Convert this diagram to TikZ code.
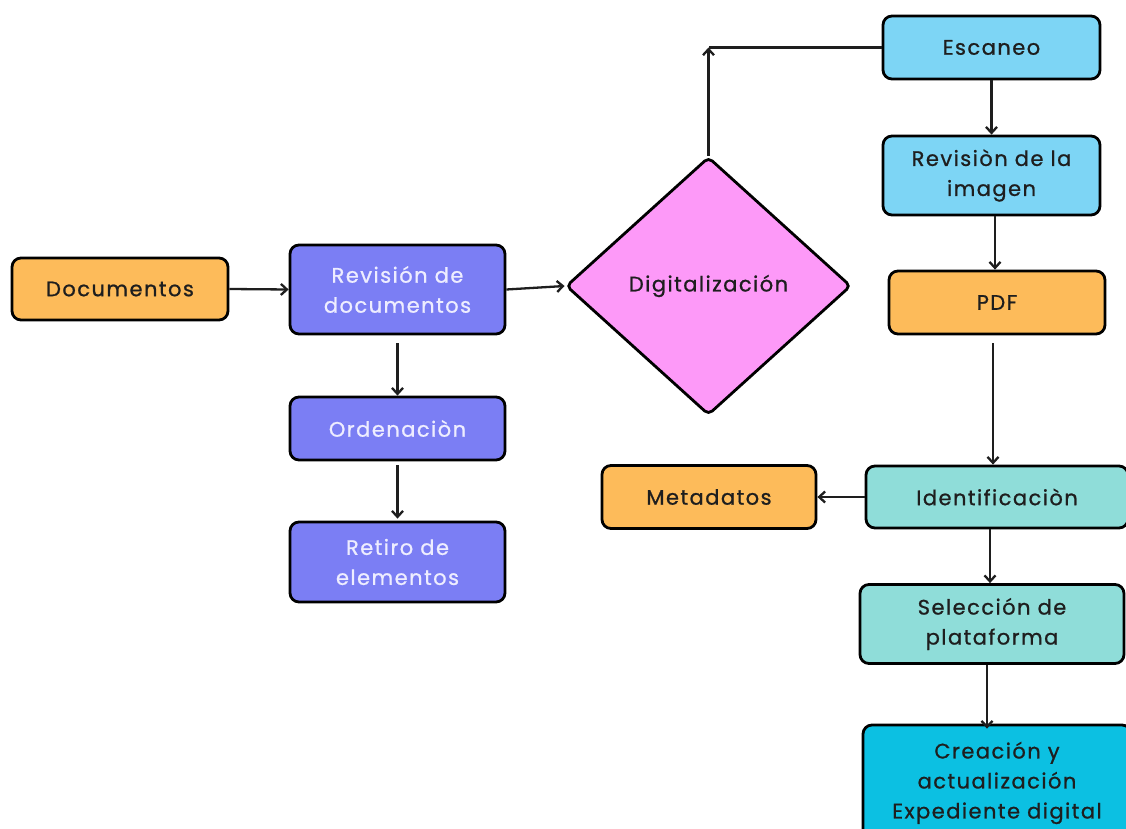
\documentclass[tikz,border=0pt]{standalone}
\usepackage{fontspec}
\setmainfont{Poppins}[LetterSpace=7, FakeBold=0.9]
\usetikzlibrary{shapes.geometric,arrows.meta}
\definecolor{corange}{HTML}{FDBB5A}
\definecolor{cpurple}{HTML}{7B7EF4}
\definecolor{cpink}{HTML}{FD99F8}
\definecolor{clblue}{HTML}{7DD5F5}
\definecolor{cteal}{HTML}{8FDDD9}
\definecolor{ccyan}{HTML}{0CC0E2}
\definecolor{ctextlight}{HTML}{EEEDFF}
\definecolor{ctextdark}{HTML}{1E1E1E}
\tikzset{
  box/.style={draw=black, line width=2.8pt, rounded corners=9pt, align=center,
    inner sep=0pt, font=\fontsize{21}{30}\selectfont, text=ctextdark},
  obox/.style={box, fill=corange},
  pbox/.style={box, fill=cpurple, text=ctextlight},
  bbox/.style={box, fill=clblue},
  tbox/.style={box, fill=cteal},
  cbox/.style={box, fill=ccyan},
  conn/.style={line width=2.3pt, draw=ctextdark},
  arr/.style={conn, -{Straight Barb[length=6pt,width=11pt,line width=2.3pt]}},
}
\begin{document}
\begin{tikzpicture}[x=1pt,y=-1pt]
\useasboundingbox[fill=white] (0,0) rectangle (1126,829);
% left column
\node[obox, minimum width=216, minimum height=62] (doc) at (120,289) {Documentos};
\node[pbox, minimum width=215, minimum height=89] (rev) at (397.5,289.5) {Revisión de\\documentos};
\node[pbox, minimum width=215, minimum height=63] (ord) at (397.5,428.5) {Ordenaciòn};
\node[pbox, minimum width=215, minimum height=80] (ret) at (397.5,562) {Retiro de\\elementos};
% diamond
\node[diamond, draw=black, line width=2.8pt, fill=cpink, minimum width=285, minimum height=258,
  aspect=1.1, inner sep=0pt, font=\fontsize{21}{30}\selectfont, text=ctextdark, rounded corners=5pt] (dig) at (708.5,286) {Digitalización};
% right column
\node[bbox, minimum width=217, minimum height=63] (esc) at (991.5,47.5) {Escaneo};
\node[bbox, minimum width=217, minimum height=79] (rim) at (991.5,175.5) {Revisiòn de la\\imagen};
\node[obox, minimum width=216, minimum height=63] (pdf) at (997,302.5) {PDF};
\node[tbox, minimum width=262, minimum height=62] (ide) at (997,497) {Identificaciòn};
\node[obox, minimum width=214, minimum height=63] (met) at (709,497) {Metadatos};
\node[tbox, minimum width=264, minimum height=79] (sel) at (992,624) {Selección de\\plataforma};
\node[cbox, minimum width=268, minimum height=116] (cre) at (997,783) {Creación y\\actualización\\Expediente digital};
% connectors
\coordinate (corner) at (708.5,47.5);
\draw[arr] (doc.east) -- (rev.west);
\draw[arr] (rev.east) -- (dig.west);
\draw[arr] ([yshift=-8pt]rev.south) -- (ord.north);
\draw[arr] ([yshift=-4pt]ord.south) -- ([yshift=2pt]ret.north);
\draw[conn] (esc.west) -- (corner);
\draw[arr] (dig.north) -- (corner);
\draw[arr] (esc.south) -- (rim.north);
\draw[arr] (rim.south -| 995,0) -- (pdf.north -| 995,0);
\draw[arr] ([yshift=-8pt]pdf.south -| 993,0) -- (ide.north -| 993,0);
\draw[arr] (ide.west) -- (met.east);
\draw[arr] (ide.south -| 990,0) -- (sel.north -| 990,0);
\draw[arr] (sel.south -| 987,0) -- ([yshift=-5pt]cre.north -| 987,0);
\end{tikzpicture}
\end{document}
